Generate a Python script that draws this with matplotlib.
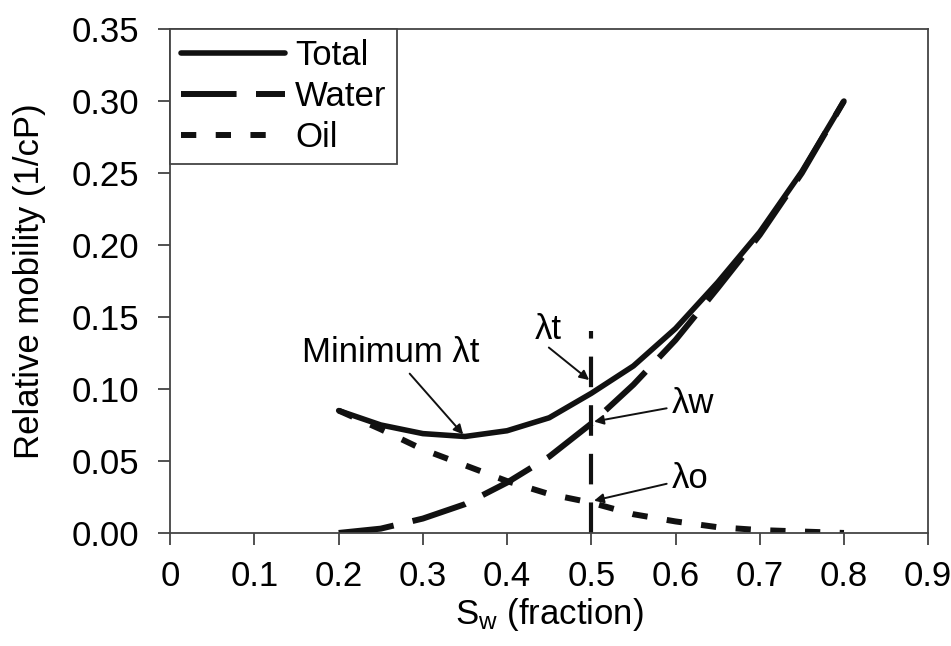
import matplotlib
matplotlib.use("Agg")
from matplotlib import pyplot as plt

plt.rcParams['font.family'] = ['Liberation Sans', 'DejaVu Sans']
plt.rcParams['mathtext.default'] = 'regular'
plt.rcParams['lines.scale_dashes'] = False

# 数据
sw = [0.20, 0.25, 0.30, 0.35, 0.40, 0.45, 0.50, 0.55, 0.60, 0.65, 0.70, 0.75, 0.80]
lam_w = [0.000, 0.003, 0.010, 0.020, 0.035, 0.053, 0.076, 0.103, 0.134, 0.170, 0.207, 0.250, 0.300]
lam_o = [0.085, 0.072, 0.058, 0.047, 0.036, 0.027, 0.021, 0.013, 0.008, 0.004, 0.002, 0.001, 0.000]
lam_t = [0.085, 0.075, 0.069, 0.067, 0.071, 0.080, 0.097, 0.116, 0.142, 0.174, 0.209, 0.251, 0.300]

x_ticks = [0, 0.1, 0.2, 0.3, 0.4, 0.5, 0.6, 0.7, 0.8, 0.9]
x_labels = ["0", "0.1", "0.2", "0.3", "0.4", "0.5", "0.6", "0.7", "0.8", "0.9"]
y_ticks = [0, 0.05, 0.10, 0.15, 0.20, 0.25, 0.30, 0.35]

sw_mark = 0.5
mark_top = 0.14

fs = 25
fig = plt.figure(figsize=(9.51, 6.46), dpi=100)
ax = fig.add_axes([0.179, 0.175, 0.797, 0.78])

ax.plot(sw, lam_t, color="#111111", lw=4, solid_capstyle="round", label="Total")
ax.plot(sw, lam_w, color="#111111", lw=4.3, dashes=(40, 14), dash_capstyle="butt", label="Water")
ax.plot(sw, lam_o, color="#111111", lw=4.3, dashes=(11, 14), dash_capstyle="butt", label="Oil")

# 0.5处的竖直虚线
ax.plot([sw_mark, sw_mark], [0, mark_top], color="#111111", lw=3.0, dashes=(22, 13))

arrow = dict(arrowstyle="-|>", color="#111111", lw=1.4, mutation_scale=14)
ax.annotate("Minimum λt", xy=(0.35, 0.067), xytext=(0.262, 0.1255), fontsize=fs,
            ha="center", va="center", arrowprops=arrow)
ax.annotate("", xy=(sw_mark, 0.105), xytext=(0.447, 0.130), arrowprops=arrow)
ax.text(0.449, 0.141, "λt", fontsize=fs, ha="center", va="center")
ax.annotate("λw", xy=(sw_mark, 0.077), xytext=(0.596, 0.090), fontsize=fs,
            ha="left", va="center", arrowprops=arrow)
ax.annotate("λo", xy=(sw_mark, 0.022), xytext=(0.596, 0.038), fontsize=fs,
            ha="left", va="center", arrowprops=arrow)

ax.set_xlim(0, 0.9)
ax.set_ylim(0, 0.35)
ax.set_xticks(x_ticks)
ax.set_xticklabels(x_labels)
ax.set_yticks(y_ticks)
ax.set_yticklabels(["%.2f" % v for v in y_ticks])
ax.tick_params(labelsize=fs, length=8.5, width=1.2, color="#333333", direction="out")
ax.tick_params(axis="x", pad=11)
ax.tick_params(axis="y", pad=14)
for s in ax.spines.values():
    s.set_color("#444444")
    s.set_linewidth(1.3)

ax.set_xlabel("S$_w$ (fraction)", fontsize=fs, labelpad=2)
ax.set_ylabel("Relative mobility (1/cP)", fontsize=fs, labelpad=18)

leg = ax.legend(loc="upper left", borderaxespad=0, fontsize=fs, handlelength=3.0,
                handletextpad=0.3, labelspacing=0.22, borderpad=0.3, fancybox=False,
                framealpha=1)
leg.get_frame().set_edgecolor("#444444")
leg.get_frame().set_linewidth(1.3)

fig.savefig("out.png", dpi=100)
